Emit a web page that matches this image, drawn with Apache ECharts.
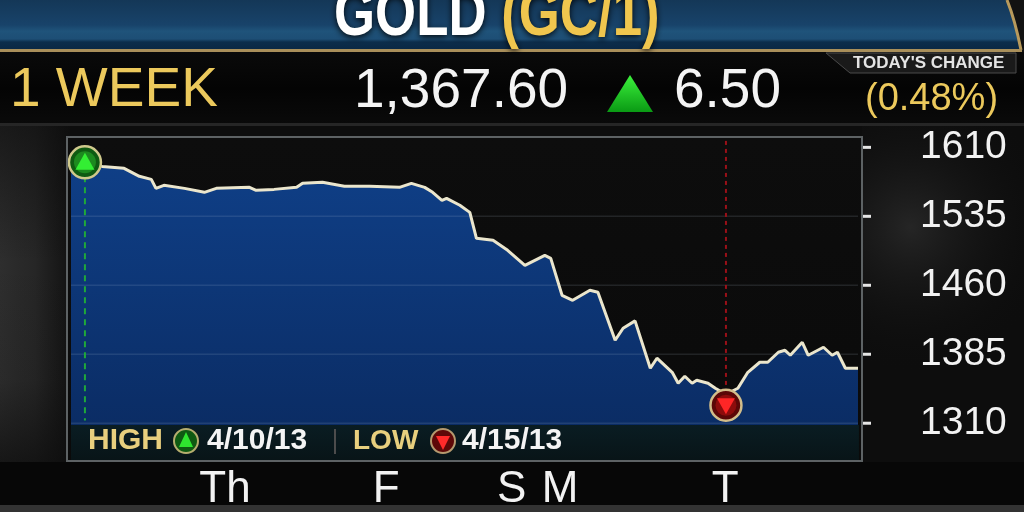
<!DOCTYPE html>
<html>
<head>
<meta charset="utf-8">
<script src="https://cdn.jsdelivr.net/npm/echarts@6/dist/echarts.min.js"></script>
<style>
html,body{margin:0;padding:0;background:#0b0b0b;}
#chart{width:1024px;height:512px;}
</style>
</head>
<body>
<div id="chart"></div>
<script>
// ---- data ----
// x = trading hours from the left edge of the plot, price in USD/oz
var hours  = [0, 1.96, 4.7, 8.0, 10.3, 12.1, 12.8, 14.0, 17.1, 20.1, 21.9, 26.9, 27.9, 30.6, 34.0, 34.9, 37.9, 41.2, 45.0, 49.5, 51.3, 53.3, 54.5, 55.9, 56.6, 58.6, 60.1, 61.1, 63.6, 65.8, 68.4, 71.4, 72.3, 74.0, 75.6, 78.2, 79.4, 82.0, 83.2, 85.0, 87.3, 88.3, 90.6, 91.5, 92.5, 93.6, 94.3, 96.0, 97.1, 98.7, 100.5, 102.0, 103.8, 105.0, 106.6, 107.6, 108.4, 110.2, 111.1, 113.4, 114.7, 115.5, 116.7, 118.6];
var prices = [1593.7, 1593.7, 1589.3, 1587.2, 1578.5, 1575.2, 1565.4, 1568.7, 1565.4, 1561.1, 1565.4, 1566.5, 1563.3, 1564.3, 1566.5, 1570.9, 1572.0, 1567.6, 1567.6, 1566.5, 1570.9, 1566.5, 1561.1, 1552.4, 1554.6, 1547.0, 1539.3, 1511.1, 1508.9, 1498.0, 1481.7, 1492.6, 1489.3, 1449.1, 1443.7, 1454.6, 1452.4, 1400.2, 1413.3, 1421.3, 1369.8, 1380.7, 1365.4, 1353.5, 1361.1, 1353.5, 1356.7, 1353.5, 1348.0, 1341.5, 1348.0, 1365.4, 1376.3, 1376.3, 1387.2, 1389.3, 1383.9, 1398.0, 1383.9, 1392.6, 1383.9, 1387.2, 1369.8, 1369.8];
var dayLabels    = ['Th', 'F', 'S', 'M', 'T'];
var dayPositions = [23.2, 47.5, 66.4, 73.7, 98.6];
var yTicks = [1310, 1385, 1460, 1535, 1610];
var gridValues = [1310, 1385, 1460, 1535];
var highPoint = [2.1, 1593.7];
var lowPoint  = [98.7, 1341.5];
var highDropTo = 1313, lowRiseFrom = 1346;
var highDate = '4/10/13', lowDate = '4/15/13';
var titleMain = 'GOLD', titleCode = '(GC/1)';
var periodLabel = '1 WEEK';
var lastPrice = '1,367.60', changeValue = '6.50', changePct = '(0.48%)';
var changeCaption = "TODAY'S CHANGE";

var FONT = '"Liberation Sans", Arial, sans-serif';
var X_MIN = 0, X_MAX = 118.6, Y_MIN = 1270, Y_MAX = 1618;
var seriesData = hours.map(function (h, i) { return [h, prices[i]]; });

var chart = echarts.init(document.getElementById('chart'), null, {renderer: 'canvas'});

function lin(stops, horizontal) {
  return new echarts.graphic.LinearGradient(0, 0, horizontal ? 1 : 0, horizontal ? 0 : 1,
    stops.map(function (s) { return {offset: s[0], color: s[1]}; }));
}
function rad(cx, cy, r, stops) {
  return new echarts.graphic.RadialGradient(cx, cy, r,
    stops.map(function (s) { return {offset: s[0], color: s[1]}; }));
}

var graphics = [
  // page background
  {type: 'rect', z: -20, shape: {x: 0, y: 0, width: 1024, height: 512}, style: {fill: '#0d0d0d'}},
  {type: 'rect', z: -19, shape: {x: 0, y: 125, width: 70, height: 340},
    style: {fill: lin([[0, '#2e2e2e'], [0.5, '#262626'], [1, '#121212']], true)}},
  {type: 'rect', z: -19, shape: {x: 0, y: 125, width: 70, height: 340},
    style: {fill: lin([[0, 'rgba(12,12,12,0.6)'], [0.4, 'rgba(12,12,12,0)'], [0.75, 'rgba(12,12,12,0.1)'], [1, 'rgba(12,12,12,0.7)']])}},
  {type: 'rect', z: -19, shape: {x: 862, y: 125, width: 162, height: 340},
    style: {fill: rad(0.3, 0.3, 0.9, [[0, 'rgba(40,40,40,0.9)'], [1, 'rgba(13,13,13,0)']])}},
  // header band
  {type: 'rect', z: -18, shape: {x: 0, y: 0, width: 1024, height: 50},
    style: {fill: lin([[0, '#143757'], [0.5, '#18436a'], [0.62, '#1f537a'], [0.78, '#1d4e75'], [0.84, '#0c2d4b'], [1, '#0a2743']])}},
  {type: 'polygon', z: -17, shape: {points: [[1007, 0], [1024, 0], [1024, 52], [1021, 52], [1016, 25]]}, style: {fill: '#121212'}},
  {type: 'bezierCurve', z: -16, shape: {x1: 1007, y1: 0, cpx1: 1013, cpy1: 15, cpx2: 1018, cpy2: 35, x2: 1021, y2: 50},
    style: {stroke: '#b89a5c', lineWidth: 3, fill: null}},
  {type: 'rect', z: -16, shape: {x: 0, y: 49, width: 1022, height: 3}, style: {fill: '#a98f5a'}},
  // price row
  {type: 'rect', z: -18, shape: {x: 0, y: 52, width: 1024, height: 73},
    style: {fill: lin([[0, '#0a0a0a'], [0.5, '#040404'], [1, '#0a0a0a']])}},
  {type: 'rect', z: -18, shape: {x: 0, y: 123, width: 1024, height: 3}, style: {fill: '#262626'}},
  // today's change tab
  {type: 'polygon', z: -15, shape: {points: [[826, 53], [1016, 53], [1016, 73], [850, 73]]},
    style: {fill: '#1a1a1a', stroke: '#4a4a4a', lineWidth: 1}},
  // bottom strip
  {type: 'rect', z: -18, shape: {x: 0, y: 462, width: 1024, height: 44}, style: {fill: '#070707'}},
  {type: 'rect', z: -18, shape: {x: 0, y: 505, width: 1024, height: 7}, style: {fill: '#333333'}},
  // chart panel
  {type: 'rect', z: -15, shape: {x: 67, y: 137, width: 795, height: 324},
    style: {fill: lin([[0, '#0d0d0d'], [1, '#0a0a0a']])}},
  // header texts
  {type: 'text', z: 5, x: 334, y: 17, scaleX: 0.8,
    style: {text: '{w|' + titleMain + ' }{g|' + titleCode + '}', verticalAlign: 'middle', align: 'left',
      rich: {
        w: {fill: '#ffffff', font: 'bold 66px ' + FONT, textShadowColor: 'rgba(0,0,0,0.9)', textShadowBlur: 6, textShadowOffsetY: 2},
        g: {fill: '#f0c64e', font: 'bold 66px ' + FONT, textShadowColor: 'rgba(0,0,0,0.9)', textShadowBlur: 6, textShadowOffsetY: 2}
      }}},
  {type: 'text', z: 5, style: {text: periodLabel, x: 10, y: 91, fill: '#ecc95c', font: '55px ' + FONT, verticalAlign: 'middle', align: 'left'}},
  {type: 'text', z: 5, style: {text: lastPrice, x: 354, y: 92, fill: '#f4f4f4', font: '55px ' + FONT, verticalAlign: 'middle', align: 'left'}},
  {type: 'polygon', z: 5, shape: {points: [[630, 75], [653, 112], [607, 112]]},
    style: {fill: lin([[0, '#3cf23c'], [1, '#0a9a14']])}},
  {type: 'text', z: 5, style: {text: changeValue, x: 674, y: 92, fill: '#f4f4f4', font: '55px ' + FONT, verticalAlign: 'middle', align: 'left'}},
  {type: 'text', z: 5, style: {text: changeCaption, x: 853, y: 63, fill: '#e4e4e4', font: 'bold 17px ' + FONT, verticalAlign: 'middle', align: 'left'}},
  {type: 'text', z: 5, style: {text: changePct, x: 865, y: 100, fill: '#ecc95c', font: '38px ' + FONT, verticalAlign: 'middle', align: 'left'}},
  // legend strip inside the plot
  {type: 'rect', z: 10, shape: {x: 71, y: 425, width: 788, height: 35},
    style: {fill: lin([[0, 'rgba(10,28,32,0.96)'], [1, 'rgba(8,20,22,0.98)']])}},
  {type: 'text', z: 11, style: {text: 'HIGH', x: 88, y: 441, fill: '#e8cf7e', font: 'bold 30px ' + FONT, verticalAlign: 'middle', align: 'left'}},
  {type: 'circle', z: 11, shape: {cx: 186, cy: 441, r: 12},
    style: {fill: '#0f5a12', stroke: '#b5ae6e', lineWidth: 2}},
  {type: 'polygon', z: 12, shape: {points: [[186, 432], [193, 447], [179, 447]]}, style: {fill: '#2fe52f'}},
  {type: 'text', z: 11, style: {text: highDate, x: 207, y: 441, fill: '#f4f4f4', font: 'bold 30px ' + FONT, verticalAlign: 'middle', align: 'left'}},
  {type: 'rect', z: 11, shape: {x: 334, y: 429, width: 2, height: 25}, style: {fill: '#4c4c4c'}},
  {type: 'text', z: 11, style: {text: 'LOW', x: 353, y: 441, fill: '#e8cf7e', font: 'bold 28px ' + FONT, verticalAlign: 'middle', align: 'left'}},
  {type: 'circle', z: 11, shape: {cx: 443, cy: 441, r: 12},
    style: {fill: '#5e0808', stroke: '#b5996e', lineWidth: 2}},
  {type: 'polygon', z: 12, shape: {points: [[436, 436], [450, 436], [443, 450]]}, style: {fill: '#ff2a2a'}},
  {type: 'text', z: 11, style: {text: lowDate, x: 462, y: 441, fill: '#f4f4f4', font: 'bold 30px ' + FONT, verticalAlign: 'middle', align: 'left'}},
  // panel frame
  {type: 'rect', z: 20, shape: {x: 67, y: 137, width: 795, height: 324},
    style: {fill: null, stroke: '#5d6264', lineWidth: 2}}
];

function refLine(points, color, width, type, z) {
  return {
    type: 'line', data: points, symbol: 'none', showSymbol: false, silent: true, z: z,
    lineStyle: {color: color, width: width, type: type}, emphasis: {disabled: true}, tooltip: {show: false}
  };
}

var series = [];
series.push({
  type: 'line',
  data: seriesData,
  showSymbol: false, symbol: 'none', smooth: false, z: 2,
  lineStyle: {color: '#ebe6cd', width: 3},
  areaStyle: {color: lin([[0, '#0f3f87'], [1, '#0a2a60']]), opacity: 1},
  emphasis: {disabled: true}
});
// horizontal guide lines at the tick values
gridValues.forEach(function (v) {
  series.push(refLine([[X_MIN, v], [X_MAX, v]], 'rgba(200,210,230,0.12)', 1.5, 'solid', 3));
});
// dashed drop lines from the high and low markers
series.push(refLine([[highPoint[0], highPoint[1] - 15], [highPoint[0], highDropTo]], '#1fa83a', 2, [6, 5], 4));
series.push(refLine([[lowPoint[0], Y_MAX - 1], [lowPoint[0], lowRiseFrom]], '#9a1018', 2, [4, 4], 4));
// tick marks just right of the plot, at the y tick values
series.push({
  type: 'scatter', z: 6, silent: true, clip: false, emphasis: {disabled: true},
  data: yTicks.map(function (v) { return [X_MAX, v]; }),
  symbol: 'rect', symbolSize: [8, 3], symbolOffset: [9, 0],
  itemStyle: {color: '#e6e6e6', opacity: 1}
});
// high / low markers
series.push({
  type: 'scatter', z: 5, silent: true, clip: false, emphasis: {disabled: true}, label: {show: false},
  data: [
    {value: highPoint, symbol: 'circle', symbolSize: 32,
      itemStyle: {color: '#0f5a12', borderColor: '#cfc98c', borderWidth: 2.5, opacity: 1}},
    {value: highPoint, symbol: 'circle', symbolSize: 22, itemStyle: {color: '#1d8a1f', opacity: 1}},
    {value: highPoint, symbol: 'triangle', symbolSize: [19, 17], symbolOffset: [0, -1], itemStyle: {color: '#33ee33', opacity: 1}},
    {value: lowPoint, symbol: 'circle', symbolSize: 31, symbolOffset: [0, 11],
      itemStyle: {color: '#5a0707', borderColor: '#d2bd8a', borderWidth: 2.5, opacity: 1}},
    {value: lowPoint, symbol: 'circle', symbolSize: 21, symbolOffset: [0, 11], itemStyle: {color: '#8c0c0c', opacity: 1}},
    {value: lowPoint, symbol: 'triangle', symbolSize: [18, 16], symbolRotate: 180, symbolOffset: [0, 12], itemStyle: {color: '#ff2626', opacity: 1}}
  ]
});

var option = {
  animation: false,
  backgroundColor: 'transparent',
  grid: {left: 71, right: 166, top: 140, bottom: 52, containLabel: false},
  xAxis: {
    type: 'value', min: X_MIN, max: X_MAX,
    axisLine: {show: false}, axisTick: {show: false}, splitLine: {show: false},
    axisLabel: {
      customValues: dayPositions,
      formatter: function (v) {
        var i = dayPositions.indexOf(v);
        return i >= 0 ? dayLabels[i] : '';
      },
      color: '#f2f2f2', fontSize: 44, fontFamily: FONT, margin: 8
    }
  },
  yAxis: {
    type: 'value', position: 'right', min: Y_MIN, max: Y_MAX, offset: 5,
    axisLine: {show: false},
    axisTick: {show: false},
    splitLine: {show: false},
    axisLabel: {customValues: yTicks, formatter: function (v) { return String(v); },
      color: '#f2f2f2', fontSize: 39, fontFamily: FONT, margin: 57, padding: [9, 0, 0, 0]}
  },
  series: series,
  graphic: graphics
};
chart.setOption(option);
</script>
</body>
</html>
